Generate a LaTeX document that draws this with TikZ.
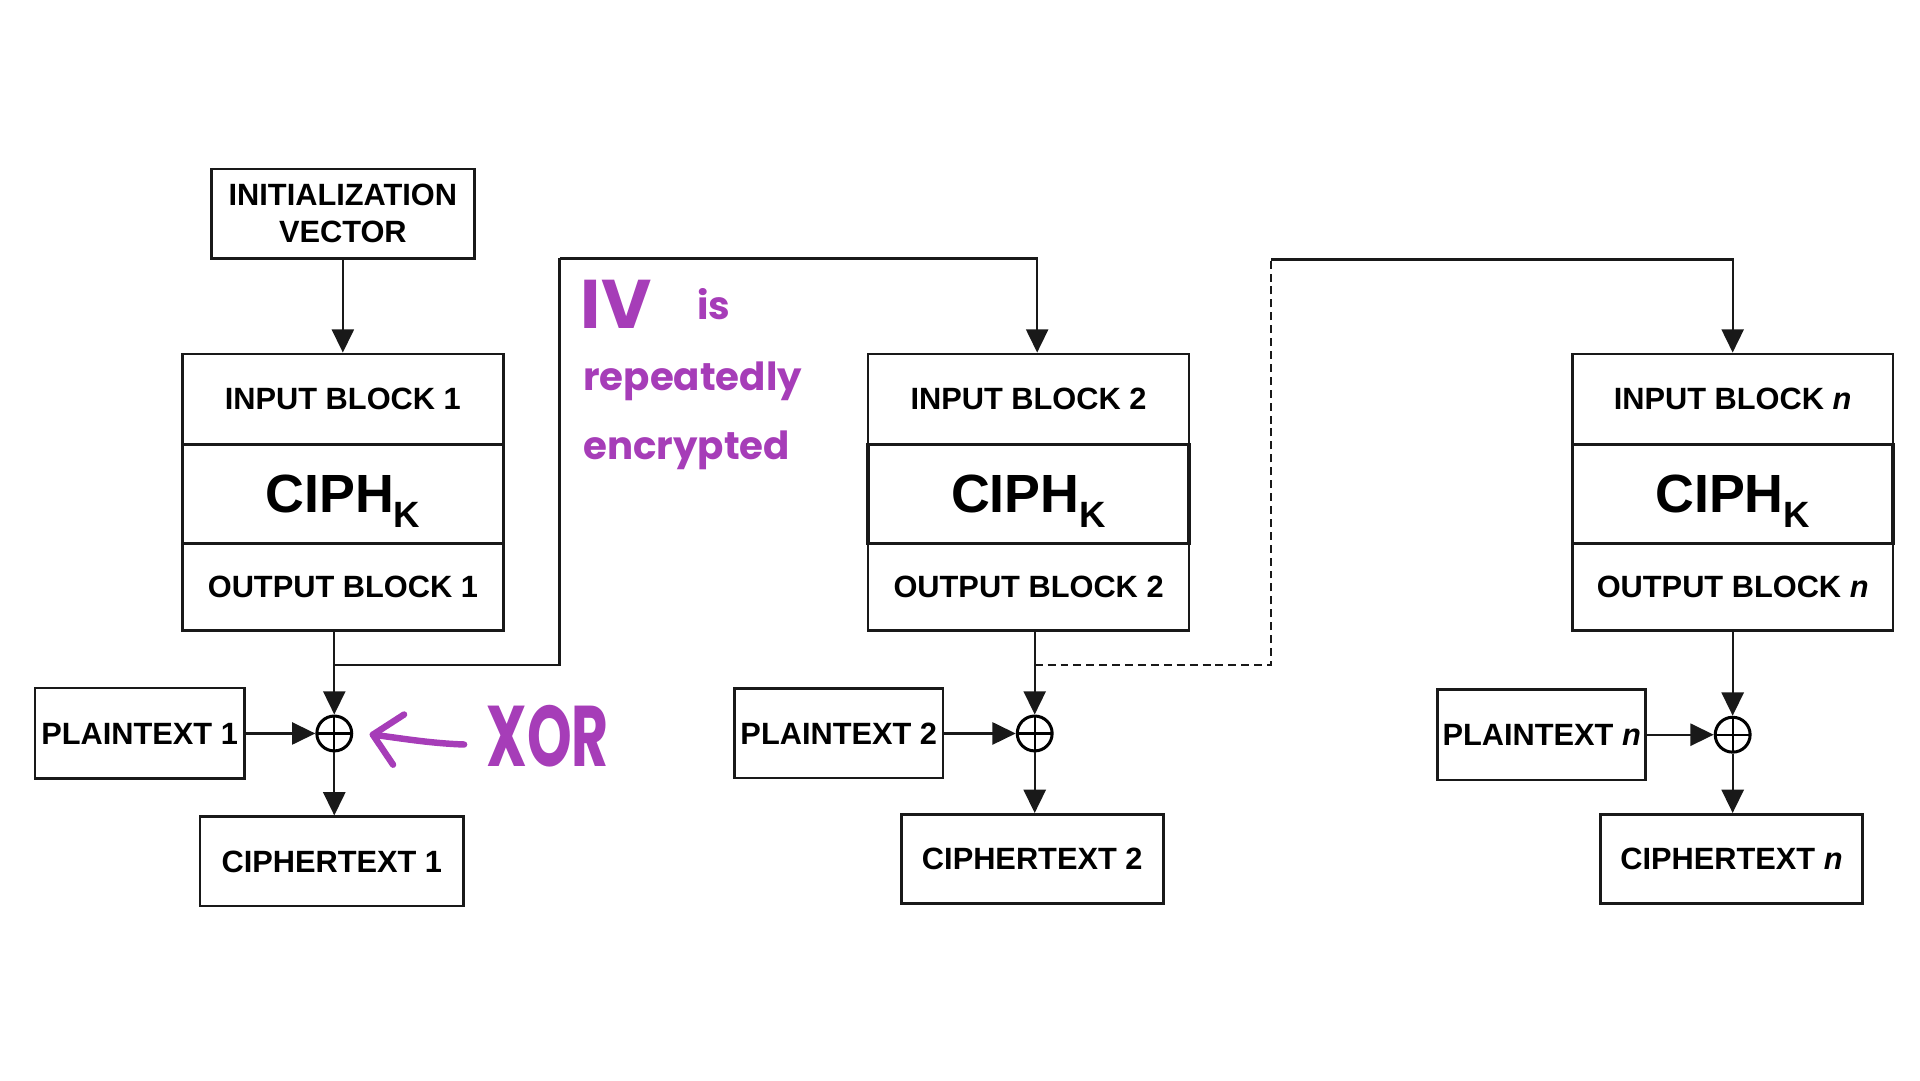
\documentclass[tikz,border=0pt]{standalone}
\usepackage{fontspec}
\usepackage{tikz}
\usepackage{xcolor}
\usetikzlibrary{arrows.meta}
\setmainfont{Liberation Sans}
\newfontfamily\handfont{Poppins}
\definecolor{penpurple}{RGB}{166,61,184}

\begin{document}
\begin{tikzpicture}[x=1cm,y=1cm,
  blk/.style={draw=black!90,line width=1.2pt,inner sep=0pt,align=center,
    font=\fontsize{14.3}{17}\selectfont\bfseries},
  ciph/.style={blk,line width=1.6pt,minimum width=5.24cm,minimum height=1.62cm,
    text height=0.60cm,text depth=0cm,font=\fontsize{25}{28}\selectfont\bfseries},
  xorop/.style={draw=black,circle,line width=1.4pt,minimum size=0.57cm,inner sep=0pt,
    path picture={\draw[line width=1.1pt] (path picture bounding box.north) -- (path picture bounding box.south)
      (path picture bounding box.west) -- (path picture bounding box.east);}},
  link/.style={draw=black!90,line width=1.1pt},
  flow/.style={link,-{Triangle[length=0.38cm,width=0.36cm]}},
  note/.style={penpurple,inner sep=0pt,anchor=base west,
    font=\handfont\bfseries\fontsize{18}{22}\selectfont},
  ink/.style={penpurple,line width=3pt,line cap=round,line join=round}]
\useasboundingbox (0,0) rectangle (31.36,-17.64);
% first block
\node[blk,minimum width=4.30cm,minimum height=1.46cm] (iv) at (5.60,-3.49) {INITIALIZATION\\VECTOR};
\node[blk,minimum width=5.24cm,minimum height=1.48cm] (in1) at (5.60,-6.52) {INPUT BLOCK 1};
\node[blk,minimum width=5.24cm,minimum height=1.42cm] (out1) at (5.60,-9.59) {OUTPUT BLOCK 1};
\node[ciph] (ciph1) at (5.60,-8.07) {CIPH\raisebox{-0.25cm}{\fontsize{17}{20}\selectfont K}};
\node[xorop] (xor1) at (5.46,-11.98) {};
\node[blk,minimum width=3.42cm,minimum height=1.48cm] (pt1) at (2.28,-11.98) {PLAINTEXT 1};
\node[blk,minimum width=4.30cm,minimum height=1.46cm] (ct1) at (5.42,-14.07) {CIPHERTEXT 1};
% second block
\node[blk,minimum width=5.24cm,minimum height=1.48cm] (in2) at (16.80,-6.52) {INPUT BLOCK 2};
\node[blk,minimum width=5.24cm,minimum height=1.42cm] (out2) at (16.80,-9.59) {OUTPUT BLOCK 2};
\node[ciph] (ciph2) at (16.80,-8.07) {CIPH\raisebox{-0.25cm}{\fontsize{17}{20}\selectfont K}};
\node[xorop] (xor2) at (16.90,-11.98) {};
\node[blk,minimum width=3.40cm,minimum height=1.46cm] (pt2) at (13.70,-11.98) {PLAINTEXT 2};
\node[blk,minimum width=4.28cm,minimum height=1.46cm] (ct2) at (16.86,-14.03) {CIPHERTEXT 2};
% last block
\node[blk,minimum width=5.24cm,minimum height=1.48cm] (inn) at (28.30,-6.52) {INPUT BLOCK \textit{n}};
\node[blk,minimum width=5.24cm,minimum height=1.42cm] (outn) at (28.30,-9.59) {OUTPUT BLOCK \textit{n}};
\node[ciph] (ciphn) at (28.30,-8.07) {CIPH\raisebox{-0.25cm}{\fontsize{17}{20}\selectfont K}};
\node[xorop] (xorn) at (28.30,-12.00) {};
\node[blk,minimum width=3.40cm,minimum height=1.48cm] (ptn) at (25.18,-12.00) {PLAINTEXT \textit{n}};
\node[blk,minimum width=4.28cm,minimum height=1.46cm] (ctn) at (28.28,-14.03) {CIPHERTEXT \textit{n}};
% connectors
\draw[flow] (iv) -- (in1);
\draw[flow] (xor1 |- out1.south) -- (xor1);
\draw[flow] (pt1) -- (xor1);
\draw[flow] (xor1) -- (xor1 |- ct1.north);
\coordinate (tap1) at (xor1 |- 0,-10.86);
\coordinate (hop1) at (9.14,-4.22);
\draw[link] (tap1) -| (hop1);
\draw[flow] (hop1) -| ([xshift=0.14cm]in2.north);
\draw[flow] (xor2 |- out2.south) -- (xor2);
\draw[flow] (pt2) -- (xor2);
\draw[flow] (xor2) -- (xor2 |- ct2.north);
\coordinate (tap2) at (xor2 |- 0,-10.86);
\coordinate (hop2) at (20.76,-4.24);
\draw[link,dash pattern=on 3.7pt off 2.3pt] (tap2) -| (hop2);
\draw[flow] (hop2) -| (inn.north);
\draw[flow] (outn) -- (xorn);
\draw[flow] (ptn) -- (xorn);
\draw[flow] (xorn) -- (xorn |- ctn.north);
% handwritten notes
\node[note,font=\handfont\bfseries\fontsize{32}{32}\selectfont] (ivnote) at (9.48,-5.36) {IV};
\node[note] (isnote) at (11.38,-5.22) {is};
\node[note] (repnote) at (9.52,-6.37) {repeatedly};
\node[note] (encnote) at (9.52,-7.51) {encrypted};
\node[note,font=\handfont\bfseries\fontsize{40}{40}\selectfont] (xornote) at (7.94,-12.52) {\scalebox{0.66}[1]{XOR}};
\draw[ink] (7.58,-12.16) .. controls (7.0,-12.14) and (6.5,-12.05) .. (6.09,-12.00);
\draw[ink] (6.60,-11.67) -- (6.09,-12.00) -- (6.42,-12.49);
\end{tikzpicture}
\end{document}
